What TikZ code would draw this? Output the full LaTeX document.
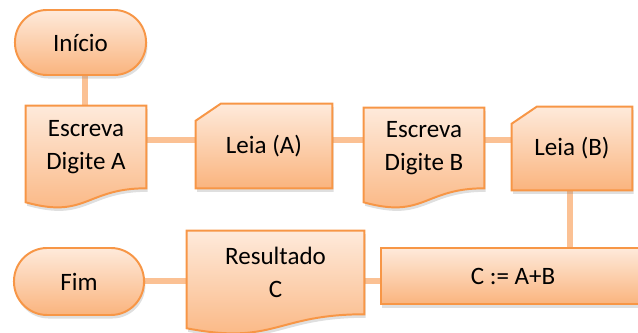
\documentclass[tikz,border=0pt]{standalone}
\usepackage{fontspec}
\setmainfont{Carlito}
\usetikzlibrary{calc}
\usetikzlibrary{shadows}
\usetikzlibrary{backgrounds}

\definecolor{boxline}{HTML}{F79646}
\definecolor{boxtop}{HTML}{FEEADB}
\definecolor{boxbottom}{HTML}{FAB47E}
\definecolor{linkline}{HTML}{FBC194}

\tikzset{
  boxfill/.style={draw=boxline, line width=1.4pt, top color=boxtop, bottom color=boxbottom,
    drop shadow={opacity=0.25, shadow xshift=1pt, shadow yshift=-2.5pt}},
  terminal/.style={boxfill, rectangle, inner sep=0pt, align=center},
  process/.style={boxfill, rectangle, inner sep=0pt, align=center},
  boxtext/.style={rectangle, inner sep=0pt, align=center},
  link/.style={draw=linkline, line width=4.3pt},
}

\begin{document}
\begin{tikzpicture}[x=0.025cm, y=-0.025cm, font=\fontsize{17.8pt}{24pt}\selectfont]

  \useasboundingbox (0,0) rectangle (638,333);

  % Define nodes
  \node[terminal, minimum width=3.275cm, minimum height=1.625cm, rounded corners=0.8cm] (inicio) at (80.5,42.5) {Início};
  \node[boxtext, minimum width=3cm, minimum height=2.05cm] (docA) at (86,147) {Escreva\\Digite A};
  \node[boxtext, minimum width=3.4cm, minimum height=2.1cm] (leiaA) at (264,146) {Leia (A)};
  \node[boxtext, minimum width=3cm, minimum height=2cm] (docB) at (424,148) {Escreva\\Digite B};
  \node[boxtext, minimum width=3cm, minimum height=2.075cm] (leiaB) at (572,148.5) {Leia (B)};
  \node[terminal, minimum width=3.25cm, minimum height=1.675cm, rounded corners=0.83cm] (fim) at (79,281.5) {Fim};
  \node[boxtext, minimum width=4.425cm, minimum height=2.075cm] (result) at (275.5,272.5) {Resultado\\C};
  \node[process, minimum width=6.6cm, minimum height=1.4cm] (calc) at (513,276) {C := A+B};

  \coordinate (row1) at (0,140);
  \coordinate (row2) at (0,281);

  \begin{scope}[on background layer]
    % Connect the nodes
    \draw[link] (docA.north -| 85,0) -- (inicio.south -| 85,0);
    \draw[link] (docA.east |- row1) -- (leiaA.west |- row1);
    \draw[link] (leiaA.east |- row1) -- (docB.west |- row1);
    \draw[link] (docB.east |- row1) -- (leiaB.west |- row1);
    \draw[link] (leiaB.south -| 570,0) -- (calc.north -| 570,0);
    \draw[link] (fim.east |- row2) -- (result.west |- row2);
    \draw[link] (result.east |- row2) -- (calc.west |- row2);

    % Document shapes
    \foreach \d in {docA, docB, result} {
      \path[boxfill] (\d.north west) -- (\d.north east) -- (\d.south east)
        .. controls (\d.south) and ($(\d.south)+(0,31)$) .. ($(\d.south west)+(0,14)$) -- cycle;
    }

    % Input shapes
    \foreach \d in {leiaA, leiaB} {
      \path[boxfill] (\d.north east) -- (\d.south east) -- (\d.south west)
        -- ($(\d.north west)+(0,17)$) -- ($(\d.north west)+(25,0)$) -- cycle;
    }
  \end{scope}

\end{tikzpicture}
\end{document}
